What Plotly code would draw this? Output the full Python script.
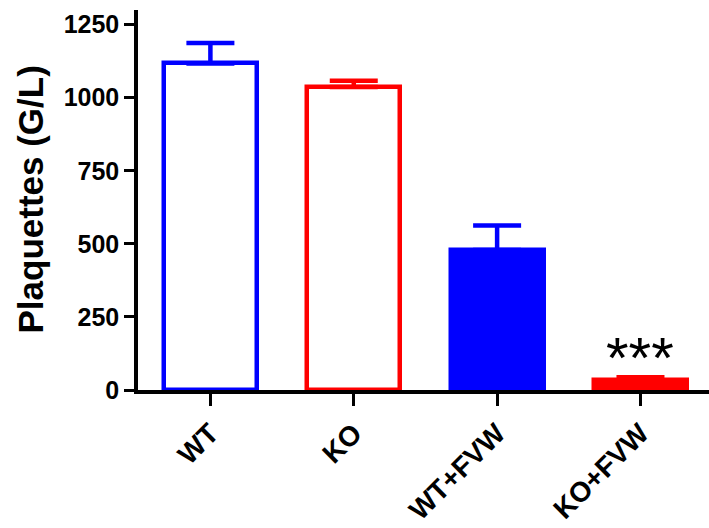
import plotly.graph_objects as go

categories = ["WT", "KO", "WT+FVW", "KO+FVW"]
means = [1117, 1037, 479, 35]
sem = [70, 21, 84, 9]
outline_colors = ["#0000FF", "#FF0000", "#0000FF", "#FF0000"]
fill_colors = ["#FFFFFF", "#FFFFFF", "#0000FF", "#FF0000"]
y_ticks = [0, 250, 500, 750, 1000, 1250]
y_title = "Plaquettes (G/L)"
signif_label = "***"
signif_y = 110

FONT = "Liberation Sans, Arial, sans-serif"

fig = go.Figure()
for i, cat in enumerate(categories):
    fig.add_trace(go.Bar(
        x=[i], y=[means[i]], width=0.648,
        marker=dict(color=fill_colors[i], line=dict(color=outline_colors[i], width=4.5)),
        error_y=dict(type="data", symmetric=False, array=[sem[i]], arrayminus=[0],
                     color=outline_colors[i], thickness=4.5, width=24),
        showlegend=False, hoverinfo="skip",
    ))

fig.add_annotation(x=3, y=signif_y, xref="x", yref="y", text=signif_label,
                   showarrow=False, xanchor="center", yanchor="middle",
                   font=dict(family=FONT, size=58, color="black"))

fig.add_annotation(x=-0.19, y=0.5, xref="paper", yref="paper", text="<b>" + y_title + "</b>",
                   showarrow=False, textangle=-90, xanchor="center", yanchor="middle",
                   font=dict(family=FONT, size=35, color="black"))

fig.update_layout(
    width=709, height=528,
    margin=dict(l=137.5, r=0, t=9.6, b=137.5),
    plot_bgcolor="white", paper_bgcolor="white",
    bargap=0,
    font=dict(family=FONT, color="black"),
)
fig.update_xaxes(
    range=[-0.505, 3.478], tickmode="array", tickvals=list(range(len(categories))),
    ticktext=["<b>" + c + "</b>" for c in categories], tickangle=-45,
    showline=True, linecolor="black", linewidth=3.5,
    ticks="outside", ticklen=12, tickwidth=3, tickcolor="black",
    tickfont=dict(family=FONT, size=28, color="black"),
    showgrid=False, zeroline=False,
)
fig.update_yaxes(
    range=[0, 1300], tickmode="array", tickvals=y_ticks,
    ticktext=["<b>%d</b>" % v for v in y_ticks],
    showline=True, linecolor="black", linewidth=3.5,
    ticks="outside", ticklen=10, tickwidth=3, tickcolor="black",
    tickfont=dict(family=FONT, size=25, color="black"),
    showgrid=False, zeroline=False,
)

fig.write_html("out.html")
